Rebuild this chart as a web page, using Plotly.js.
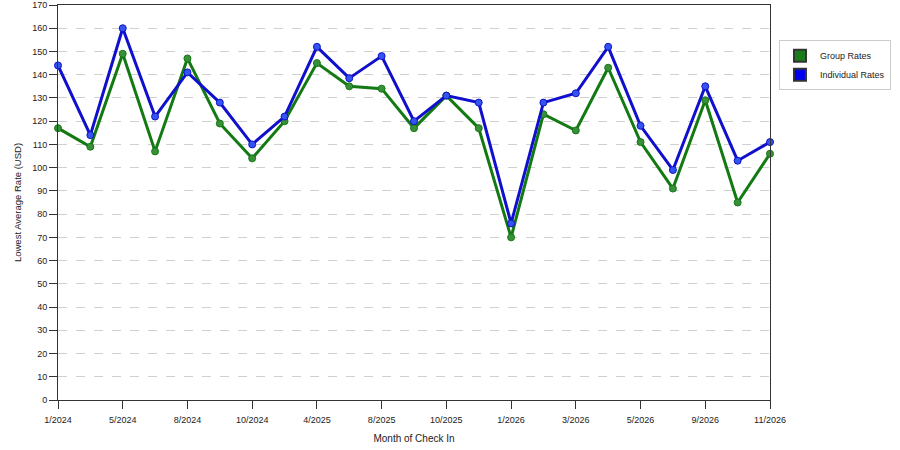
<!DOCTYPE html>
<html>
<head>
<meta charset="utf-8">
<script src="https://cdn.plot.ly/plotly-3.0.1.min.js"></script>
<style>html,body{margin:0;padding:0;background:#fff;}#chart{width:900px;height:450px;}</style>
</head>
<body>
<div id="chart"></div>
<script>
var tickLabels = ["1/2024","5/2024","8/2024","10/2024","4/2025","8/2025","10/2025","1/2026","3/2026","5/2026","9/2026","11/2026"];
var groupRates = [117,109,149,107,147,119,104,120,145,135,134,117,131,117,70,123,116,143,111,91,129,85,106];
var individualRates = [144,114,160,122,141,128,110,122,152,138.5,148,120,131,128,76,128,132,152,118,99,135,103,111];

var idx = groupRates.map(function(_, i){ return i; });
var tickVals = tickLabels.map(function(_, i){ return i * 2; });

var green = '#137a13';
var blue = '#1010cc';

var traces = [
  {x: idx, y: groupRates, mode: 'lines+markers', name: 'Group Rates', showlegend: false,
   line: {color: green, width: 3}, marker: {color: '#3a8f3a', size: 7, line:{color: green, width:1}}, cliponaxis: false},
  {x: idx, y: individualRates, mode: 'lines+markers', name: 'Individual Rates', showlegend: false,
   line: {color: blue, width: 3}, marker: {color: '#3355ee', size: 7, line:{color: blue, width:1}}, cliponaxis: false},
  {x: [null], y: [null], mode: 'markers', name: 'Group Rates', showlegend: true,
   marker: {symbol: 'square', size: 13, color: '#1a7d1a', line: {color: '#333', width: 1}}},
  {x: [null], y: [null], mode: 'markers', name: 'Individual Rates', showlegend: true,
   marker: {symbol: 'square', size: 13, color: '#0000ee', line: {color: '#333', width: 1}}}
];

var layout = {
  width: 900, height: 450,
  margin: {l: 58, r: 130, t: 5, b: 50},
  paper_bgcolor: '#fff', plot_bgcolor: '#fff',
  font: {family: 'Liberation Sans, Arial, sans-serif', size: 9, color: '#222'},
  xaxis: {
    range: [0, 22], tickvals: tickVals, ticktext: tickLabels,
    showgrid: false, zeroline: false,
    showline: true, linecolor: '#333', linewidth: 1, mirror: true,
    ticks: 'outside', ticklen: 8, tickcolor: '#333', ticklabelstandoff: 3,
    title: {text: 'Month of Check In', font: {size: 10}, standoff: 11}
  },
  yaxis: {
    range: [0, 170], dtick: 10,
    showgrid: true, gridcolor: '#d0d0d0', griddash: 'dash', gridwidth: 1,
    zeroline: false,
    showline: true, linecolor: '#333', linewidth: 1, mirror: true,
    ticks: 'outside', ticklen: 8, tickcolor: '#333',
    title: {text: 'Lowest Average Rate (USD)', font: {size: 9.5}, standoff: 8}
  },
  legend: {
    x: 1.0126, y: 0.911, xanchor: 'left', yanchor: 'top',
    bgcolor: '#fff', bordercolor: '#ccc', borderwidth: 1,
    font: {size: 9}, itemsizing: 'constant', itemwidth: 30, tracegroupgap: 2
  }
};

Plotly.newPlot('chart', traces, layout, {displayModeBar: false, staticPlot: true});
</script>
</body>
</html>
